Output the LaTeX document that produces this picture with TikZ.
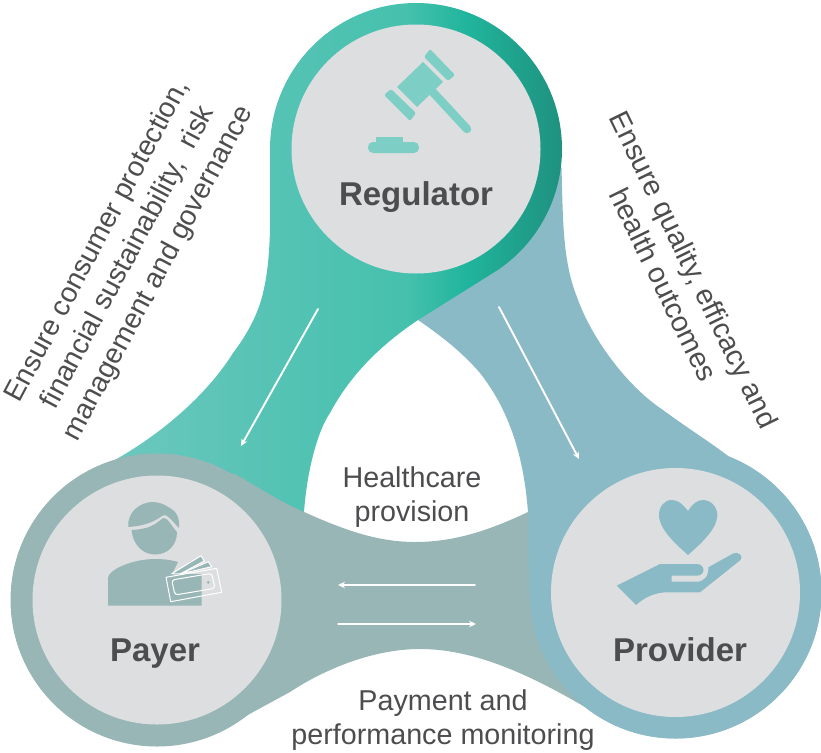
\documentclass[tikz,border=0pt]{standalone}
\usepackage{fontspec}
\setmainfont{Liberation Sans}
\usetikzlibrary{arrows.meta}

\definecolor{discgray}{HTML}{DDDEE0}
\definecolor{labelgray}{HTML}{4D4D4F}
\definecolor{providerblue}{HTML}{8BBAC7}
\definecolor{payercolor}{HTML}{98B6B6}
\definecolor{gavelcolor}{HTML}{7DCFC5}
\definecolor{regA}{HTML}{6CC8BE}
\definecolor{regB}{HTML}{56C3B5}
\definecolor{regC}{HTML}{46C1AE}
\definecolor{regD}{HTML}{20B49C}
\definecolor{regE}{HTML}{1F917F}

\pgfdeclarehorizontalshading{regulatorshade}{100bp}{
  color(0bp)=(regA); color(25bp)=(regA); color(42.5bp)=(regB); color(57.5bp)=(regC);
  color(64.5bp)=(regD); color(75bp)=(regE); color(100bp)=(regE)}

\begin{document}
\begin{tikzpicture}
  [x=1pt,y=-1pt,line cap=round,
   % Styles
   disc/.style={circle,fill=discgray,minimum size=249pt,inner sep=0pt},
   title text/.style={anchor=base,inner sep=0pt,text=labelgray,font=\fontsize{33}{36}\selectfont\bfseries},
   body text/.style={inner sep=0pt,text=labelgray,align=center,font=\fontsize{28.7}{34}\selectfont},
   flow/.style={white,line width=1.5pt,-{Stealth[length=7pt,width=6.5pt]}},
   steep flow/.style={flow,line width=1.9pt},
   bill/.style={white,line width=1pt,line join=round}]

  \useasboundingbox (0,0) rectangle (821,752);

  % The bands
  \fill[providerblue] (561.5,168) .. controls (563,215) and (562,260) .. (577,297)
    .. controls (590,335) and (625,385) .. (663,410)
    .. controls (690,430) and (715,445) .. (737,463)
    -- (675,592) -- (529,592) -- (528,512)
    .. controls (525,475) and (517,420) .. (480,373)
    .. controls (462,352) and (440,335) .. (418,320)
    -- (500,200) -- cycle;
  \fill[providerblue] (675.5,592.5) circle (146pt);

  \path[shading=regulatorshade] (270,149) arc (180:-56:146pt)
    -- (418,320) .. controls (370,352) and (345,385) .. (330,413)
    .. controls (318,430) and (307,470) .. (304,512)
    -- (157,520) -- (114,460.5)
    .. controls (168,430) and (210,390) .. (233,353)
    .. controls (246,336) and (258,315) .. (263,293)
    .. controls (272,255) and (270,215) .. (270,160) -- cycle;

  \fill[payercolor] (157,600) circle (146.5pt);
  \fill[payercolor] (233,473) .. controls (255,485) and (280,502) .. (304,512)
    .. controls (340,528) and (375,542) .. (415,542)
    .. controls (455,542) and (490,530) .. (528,512)
    -- (560,600) -- (585,707)
    .. controls (530,675) and (475,649) .. (420,649)
    .. controls (370,649) and (320,672) .. (290,692)
    -- (233,723) -- cycle;

  \fill[providerblue] (675.5,592.5) circle (146pt);
  \fill[providerblue] (528,512) -- (529,592) -- (640,560) -- (640,490) -- cycle;

  % The discs
  \node[disc] (regulator) at (416,149) {};
  \node[disc] (payer) at (157,600) {};
  \node[disc] (provider) at (675.5,592.5) {};

  % Gavel
  \begin{scope}[gavelcolor]
    \fill[rounded corners=1.5pt] (430,49) -- (455,75) -- (448,81) -- (424,57) -- cycle;
    \fill[rounded corners=1.5pt] (391,89) -- (416,113) -- (410,121) -- (384,95) -- cycle;
    \fill (423,62) -- (443,82) -- (417,107) -- (397,87) -- cycle;
    \draw[line width=8.5pt] (430,89) -- (467,129);
    \fill[rounded corners=5pt] (368,142) rectangle (419,153);
    \fill (376,137) rectangle (403,143);
  \end{scope}

  % Person with bills
  \begin{scope}[payercolor]
    \fill (128.3,527) .. controls (127,512) and (140,502) .. (153,502)
      .. controls (160,502) and (165,505) .. (170,508)
      .. controls (176,511) and (180,518) .. (179,528)
      .. controls (174,523) and (169,516) .. (165,515)
      .. controls (160,515) and (156,525) .. (128.3,527) -- cycle;
    \fill (131.5,530) .. controls (133,545) and (143,554.5) .. (155,554.5)
      .. controls (168,554.5) and (177,545) .. (177,532)
      .. controls (172,527) and (168,518) .. (164,518)
      .. controls (159,519) and (156,529) .. (131.5,530) -- cycle;
    \fill (108,605.7) -- (108,578) .. controls (108,570) and (132,559) .. (155,559)
      .. controls (163,559) and (172,560) .. (178,562) -- (172,574) -- (201.7,574)
      -- (201.7,605.7) -- cycle;
    \draw[bill,fill=payercolor]
      (171.7,573.7) -- (201,555.7) -- (204.3,561) -- (180,574) -- cycle;
    \draw[bill,fill=payercolor]
      (180,574) -- (208.3,561.7) -- (211.7,566.7) -- (190,571.7) -- cycle;
    \draw[bill] (166,577.3) -- (216.7,568.3) -- (221.7,592.3) -- (170.7,601.7) -- cycle;
    \draw[bill,rounded corners=3pt]
      (171.7,580) -- (211.7,573.3) -- (215,588.3) -- (175,595) -- cycle;
    \fill (208.3,582.3) circle (1.5pt);
  \end{scope}

  % Heart in a hand
  \begin{scope}[providerblue]
    \fill (688,511) .. controls (682,503) and (677,500) .. (671.7,500)
      .. controls (664,500) and (659,507) .. (659,515)
      .. controls (659,530) and (678,546) .. (688,555)
      .. controls (698,546) and (717.3,530) .. (717.3,515)
      .. controls (717.3,507) and (711,500) .. (703,500)
      .. controls (698,500) and (693,503) .. (688,511) -- cycle;
    \fill (616.7,585.7) -- (660,564) -- (696.7,564)
      .. controls (701,564) and (703.5,567) .. (703.5,570)
      .. controls (703.5,573) and (701,575.7) .. (696.7,575.7)
      -- (671.7,575.7) -- (671.7,581.7) -- (696.7,581.7)
      .. controls (704,581.7) and (709,576) .. (708.3,567.3)
      -- (733,553.5) .. controls (738,551) and (744,556) .. (740.5,560)
      -- (700,592.3) -- (666.7,592.3)
      .. controls (655,592.5) and (645,597) .. (636,605) -- cycle;
  \end{scope}

  % Disc titles
  \node[title text] (regulator title) at (416,205) {Regulator};
  \node[title text] (payer title) at (155,661) {Payer};
  \node[title text] (provider title) at (680,661) {Provider};

  % Labels
  \node[body text] (healthcare) at (412,497) {Healthcare\\provision};
  \node[body text] (payment) at (443,720) {Payment and\\performance monitoring};
  \node[body text,rotate=62,font=\fontsize{28.2}{34.5}\selectfont] (left text) at (128.5,257.5)
    {Ensure consumer protection,\\financial sustainability,\ \ risk\\management and governance};
  \node[body text,rotate=-64] (right text) at (679,277)
    {Ensure quality, efficacy and\\health outcomes};

  % Arrows
  \coordinate (reg left) at (318,309);
  \coordinate (pay top) at (241,446);
  \coordinate (reg right) at (499,307);
  \coordinate (pro top) at (579,459);
  \coordinate (mid right a) at (475,585);
  \coordinate (mid left a) at (338,585);
  \coordinate (mid left b) at (338,624);
  \coordinate (mid right b) at (476,624);
  \draw[steep flow] (reg left) -- (pay top);
  \draw[steep flow] (reg right) -- (pro top);
  \draw[flow] (mid right a) -- (mid left a);
  \draw[flow] (mid left b) -- (mid right b);
\end{tikzpicture}
\end{document}
